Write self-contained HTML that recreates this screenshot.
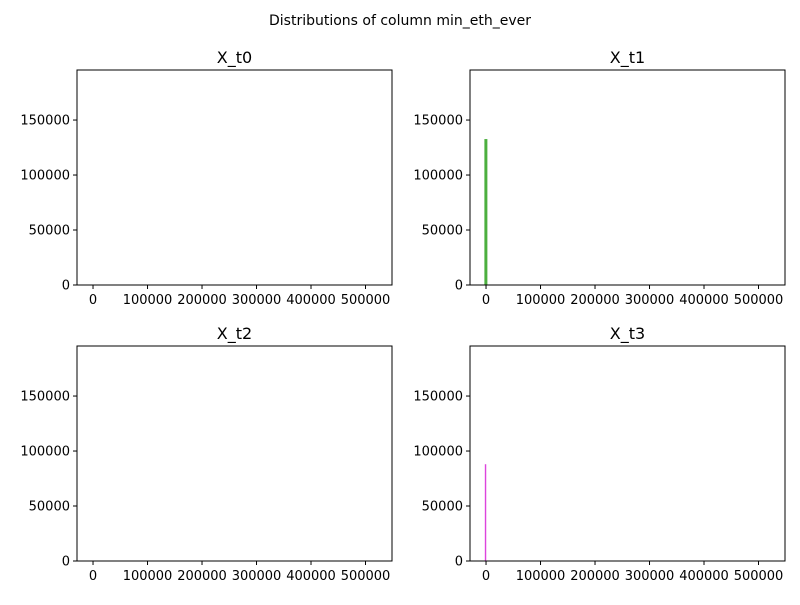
<!DOCTYPE html>
<html><head><meta charset="utf-8"><style>
body{margin:0;background:#fff;font-family:"Liberation Sans","DejaVu Sans",sans-serif}
svg text{font-family:"DejaVu Sans","Liberation Sans",sans-serif}
</style></head><body>
<svg id="chart" width="800" height="600">
<text x="400" y="25" text-anchor="middle" style="font-size:14px">Distributions of column min_eth_ever</text>
</svg>
<script>
const panelTitles=["X_t0","X_t1","X_t2","X_t3"];
const binStarts=[[],[-3000],[],[-2200]];
const binWidths=[[],[5500],[],[2600]];
const binCounts=[[],[132700],[],[88000]];
const colors=["#1f77b4","#4caf3f","#888","#dd44dd"];
const yTicks=[0,50000,100000,150000];
const xTicks=[0,100000,200000,300000,400000,500000];
const xMin=-29400,xMax=548600,yMax=195500;
const panels=[[77,70],[470,70],[77,346],[470,346]];
const W=315,H=215;
const svg=document.getElementById('chart');
const NS="http://www.w3.org/2000/svg";
function mk(t,a){const e=document.createElementNS(NS,t);for(const k in a)e.setAttribute(k,a[k]);svg.appendChild(e);return e;}
panels.forEach((p,i)=>{
 const [px,py]=p;
 const sx=v=>px+(v-xMin)/(xMax-xMin)*W;
 const sy=v=>py+H-v/yMax*H;
 binCounts[i].forEach((c,j)=>{
  const r=mk('rect',{x:sx(binStarts[i][j]),y:sy(c),width:sx(binStarts[i][j]+binWidths[i][j])-sx(binStarts[i][j]),height:sy(0)-sy(c),fill:colors[i]});
  
  
 });
 const f=mk('rect',{x:px,y:py,width:W,height:H,fill:'none',stroke:'#000','stroke-width':1});
 
 
 const t=mk('text',{x:px+W/2,y:py-7,'text-anchor':'middle',style:'font-size:16px'});
 t.textContent=panelTitles[i];
 
 
 yTicks.forEach(v=>{
  mk('line',{x1:px-4,x2:px,y1:sy(v),y2:sy(v),stroke:'#000'});
  const l=mk('text',{x:px-7,y:sy(v)+4.5,'text-anchor':'end',style:'font-size:13px'});
  l.textContent=v;
  
  
 });
 xTicks.forEach(v=>{
  mk('line',{x1:sx(v),x2:sx(v),y1:py+H,y2:py+H+4,stroke:'#000'});
  const l=mk('text',{x:sx(v),y:py+H+19,'text-anchor':'middle',style:'font-size:13px'});
  l.textContent=v;
  
  
 });
});
</script>
</body></html>
